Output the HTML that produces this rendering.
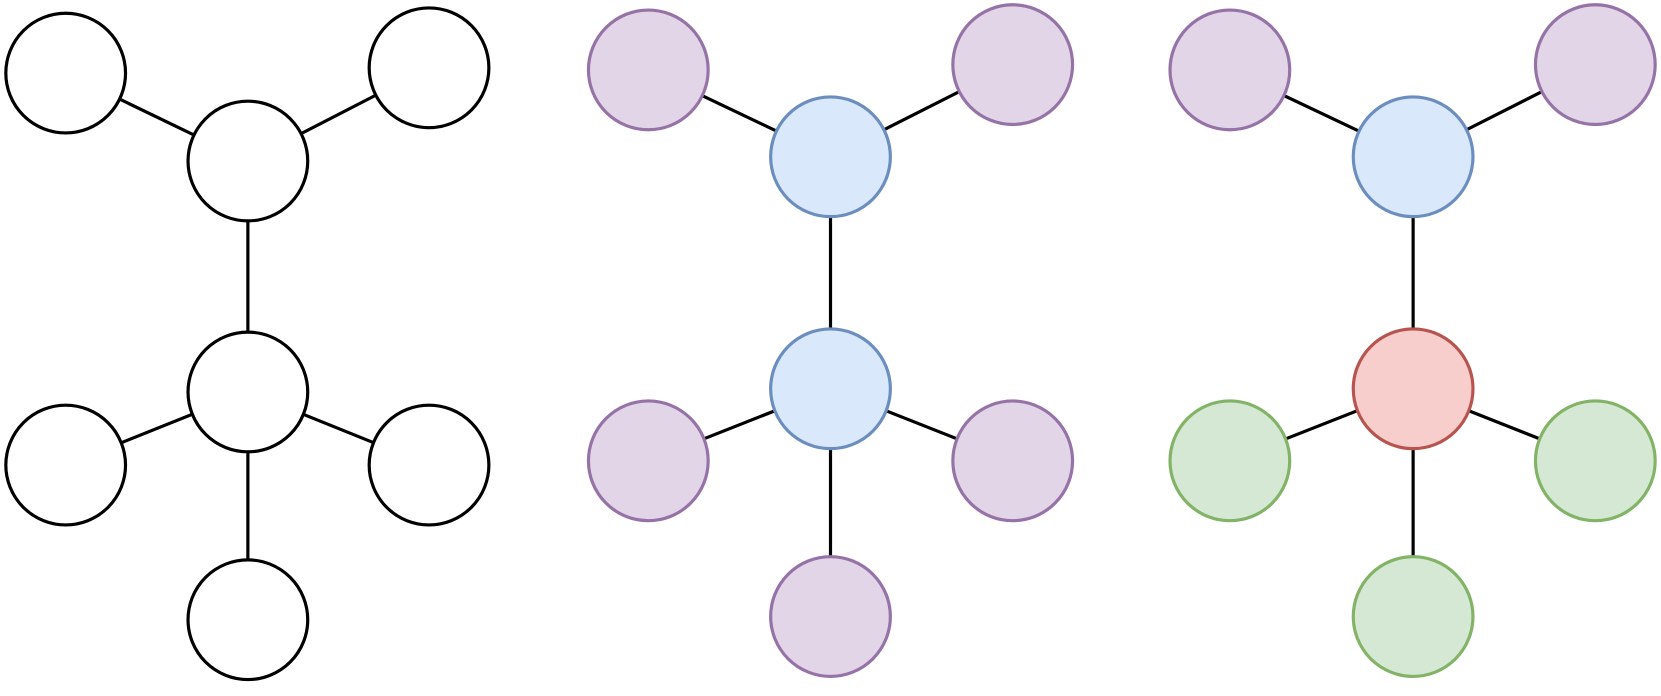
<!DOCTYPE html>
<html><head><style>html,body{margin:0;padding:0;background:#fff}svg{display:block}</style></head>
<body>
<svg width="1661" height="696" viewBox="0 0 1568 657" preserveAspectRatio="none" xmlns="http://www.w3.org/2000/svg">
<g stroke="#000" stroke-width="3">
<line x1="62" y1="69" x2="234" y2="152"/><line x1="405" y1="64" x2="234" y2="152"/><line x1="234" y1="152" x2="234" y2="370"/>
<line x1="62" y1="439" x2="234" y2="370"/><line x1="405" y1="439" x2="234" y2="370"/><line x1="234" y1="585" x2="234" y2="370"/>
<line x1="612" y1="66" x2="784" y2="148"/><line x1="956" y1="61" x2="784" y2="148"/><line x1="784" y1="148" x2="784" y2="367"/>
<line x1="612" y1="435" x2="784" y2="367"/><line x1="956" y1="435" x2="784" y2="367"/><line x1="784" y1="582" x2="784" y2="367"/>
<line x1="1161" y1="66" x2="1334" y2="148"/><line x1="1506" y1="61" x2="1334" y2="148"/><line x1="1334" y1="148" x2="1334" y2="367"/>
<line x1="1161" y1="435" x2="1334" y2="367"/><line x1="1506" y1="435" x2="1334" y2="367"/><line x1="1334" y1="582" x2="1334" y2="367"/>
</g>
<g stroke-width="3" fill="#fff" stroke="#000">
<circle cx="62" cy="69" r="56.5"/><circle cx="405" cy="64" r="56.5"/><circle cx="234" cy="152" r="56.5"/><circle cx="234" cy="370" r="56.5"/>
<circle cx="62" cy="439" r="56.5"/><circle cx="405" cy="439" r="56.5"/><circle cx="234" cy="585" r="56.5"/>
</g>
<g stroke-width="3" fill="#e1d5e7" stroke="#9673a6">
<circle cx="612" cy="66" r="56.5"/><circle cx="956" cy="61" r="56.5"/><circle cx="612" cy="435" r="56.5"/><circle cx="956" cy="435" r="56.5"/><circle cx="784" cy="582" r="56.5"/>
<circle cx="1161" cy="66" r="56.5"/><circle cx="1506" cy="61" r="56.5"/>
</g>
<g stroke-width="3" fill="#dae8fc" stroke="#6c8ebf">
<circle cx="784" cy="148" r="56.5"/><circle cx="784" cy="367" r="56.5"/><circle cx="1334" cy="148" r="56.5"/>
</g>
<circle cx="1334" cy="367" r="56.5" stroke-width="3" fill="#f8cecc" stroke="#b85450"/>
<g stroke-width="3" fill="#d5e8d4" stroke="#82b366">
<circle cx="1161" cy="435" r="56.5"/><circle cx="1506" cy="435" r="56.5"/><circle cx="1334" cy="582" r="56.5"/>
</g>
</svg>
</body></html>
